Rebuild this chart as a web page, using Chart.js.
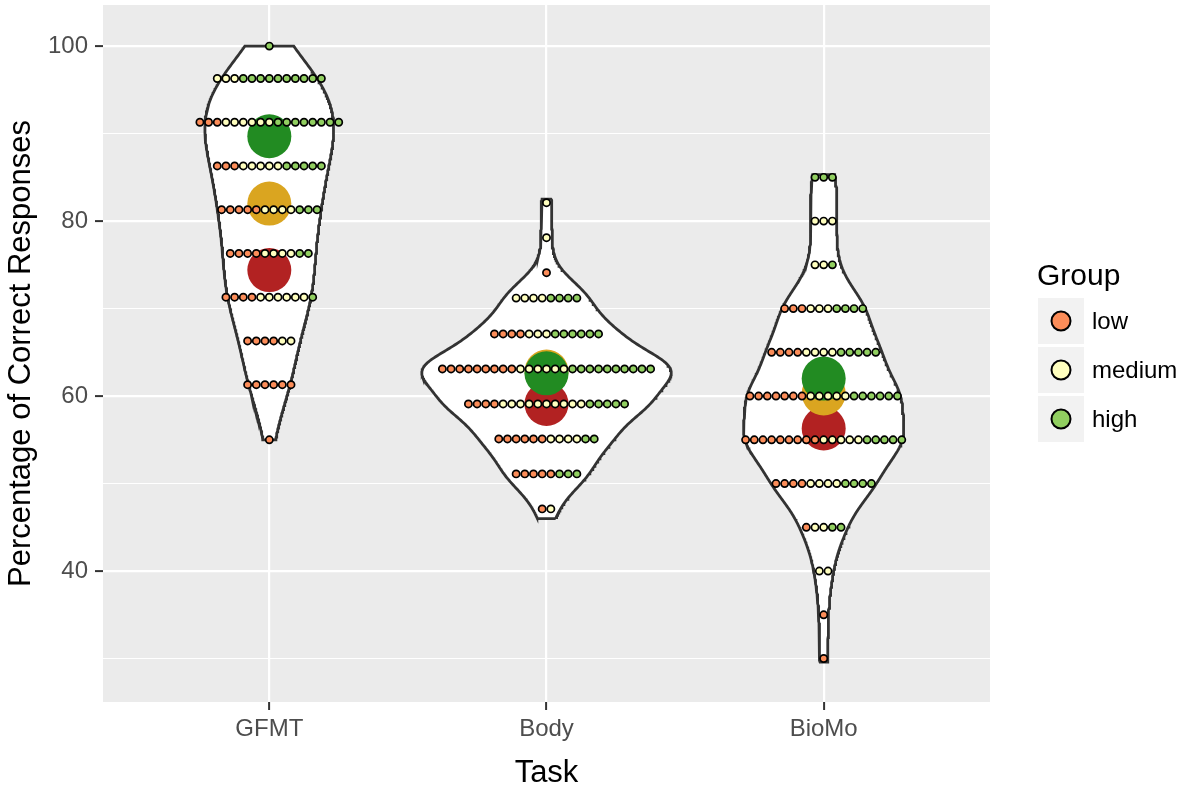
<!DOCTYPE html>
<html>
<head>
<meta charset="utf-8">
<script src="https://cdn.jsdelivr.net/npm/chart.js@4.4.1/dist/chart.umd.min.js"></script>
<style>
  html, body { margin: 0; padding: 0; background: #ffffff; }
  #wrap { width: 1181px; height: 789px; position: relative; }
</style>
</head>
<body>
<div id="wrap"><canvas id="c"></canvas></div>
<script>
// ---------------- DATA ----------------
const categories = ['GFMT', 'Body', 'BioMo'];
const groups = ['low', 'medium', 'high'];

// dot rows (bin centres) and number of participants per group in each row
const gfmtRows = [100, 96.3, 91.3, 86.3, 81.3, 76.3, 71.3, 66.3, 61.3, 55];
const gfmtLow  = [0, 0, 3, 3, 5, 4, 4, 4, 6, 1];
const gfmtMed  = [0, 3, 6, 5, 4, 4, 6, 2, 0, 0];
const gfmtHigh = [1, 10, 8, 5, 3, 2, 1, 0, 0, 0];

const bodyRows = [82.1, 78.1, 74.1, 71.2, 67.1, 63.1, 59.1, 55.1, 51.1, 47.1];
const bodyLow  = [0, 0, 1, 0, 4, 9, 4, 6, 5, 1];
const bodyMed  = [1, 1, 0, 4, 3, 6, 10, 4, 0, 1];
const bodyHigh = [0, 0, 0, 4, 6, 10, 5, 2, 3, 0];

const bioRows = [85, 80, 75, 70, 65, 60, 55, 50, 45, 40, 35, 30];
const bioLow  = [0, 0, 0, 3, 4, 7, 9, 4, 1, 0, 1, 1];
const bioMed  = [0, 3, 2, 3, 4, 5, 5, 4, 2, 2, 0, 0];
const bioHigh = [3, 0, 1, 4, 5, 6, 5, 4, 2, 0, 0, 0];

// group means per task
const meanLow  = [74.4, 59.1, 56.3];
const meanMed  = [82.0, 62.8, 60.3];
const meanHigh = [89.7, 62.6, 62.0];

// violin extent (data range) per task
const violinMin = [55, 46.0, 29.6];
const violinMax = [100, 82.5, 85.3];

// y axis ticks
const yTicks = [30, 40, 50, 60, 70, 80, 90, 100];
const yLabelled = [40, 60, 80, 100];

// ---------------- STYLE ----------------
const groupFill = ['#FC8D59', '#FFFFBF', '#91CF60'];
const meanFill  = ['#B22222', '#DAA520', '#228B22'];
const dotStep = 0.0313;       // horizontal spacing of stacked dots (x units)
const violinHalf = 0.45;      // half-width of widest violin (x units)
const FONT = '"Liberation Sans", Arial, Helvetica, sans-serif';

// ---------------- BUILD ----------------
const tasks = [
  { rows: gfmtRows, counts: [gfmtLow, gfmtMed, gfmtHigh] },
  { rows: bodyRows, counts: [bodyLow, bodyMed, bodyHigh] },
  { rows: bioRows,  counts: [bioLow,  bioMed,  bioHigh] }
];

function values(task) {
  const v = [];
  task.rows.forEach((r, i) => {
    const n = task.counts[0][i] + task.counts[1][i] + task.counts[2][i];
    for (let k = 0; k < n; k++) v.push(r);
  });
  return v.sort((a, b) => a - b);
}
function quantile(s, p) {
  const h = (s.length - 1) * p, lo = Math.floor(h), hi = Math.ceil(h);
  return s[lo] + (s[hi] - s[lo]) * (h - lo);
}
function nrd0(s) {
  const n = s.length;
  const m = s.reduce((a, b) => a + b, 0) / n;
  const sd = Math.sqrt(s.reduce((a, b) => a + (b - m) * (b - m), 0) / (n - 1));
  const iqr = quantile(s, 0.75) - quantile(s, 0.25);
  let lo = Math.min(sd, iqr / 1.34);
  if (!(lo > 0)) lo = sd || 1;
  return 0.9 * lo * Math.pow(n, -0.2);
}
function density(s, bw, y) {
  let d = 0;
  for (const v of s) { const z = (y - v) / bw; d += Math.exp(-0.5 * z * z); }
  return d / (s.length * bw * Math.sqrt(2 * Math.PI));
}

const N = 300;
const dens = tasks.map((task, t) => {
  const s = values(task);
  const bw = nrd0(s);
  const ys = [], ds = [];
  for (let i = 0; i <= N; i++) {
    const y = violinMin[t] + (violinMax[t] - violinMin[t]) * i / N;
    ys.push(y); ds.push(density(s, bw, y));
  }
  return { ys, ds };
});
const maxD = Math.max(...dens.map(d => Math.max(...d.ds)));

const violinSets = dens.map((d, t) => {
  const cx = t + 1, pts = [];
  for (let i = 0; i <= N; i++) pts.push({ x: cx + violinHalf * d.ds[i] / maxD, y: d.ys[i] });
  for (let i = N; i >= 0; i--) pts.push({ x: cx - violinHalf * d.ds[i] / maxD, y: d.ys[i] });
  pts.push({ x: pts[0].x, y: pts[0].y });
  return {
    label: 'violin ' + categories[t], data: pts, showLine: true, fill: 'shape',
    backgroundColor: '#ffffff', borderColor: '#333333', borderWidth: 2.8,
    pointRadius: 0, tension: 0, order: 20
  };
});

const dotData = [[], [], []];
tasks.forEach((task, t) => {
  task.rows.forEach((r, i) => {
    const seq = [];
    for (let g = 0; g < 3; g++) for (let k = 0; k < task.counts[g][i]; k++) seq.push(g);
    const n = seq.length;
    seq.forEach((g, k) => dotData[g].push({ x: t + 1 + (k - (n - 1) / 2) * dotStep, y: r }));
  });
});
const dotSets = dotData.map((d, g) => ({
  label: groups[g], data: d, backgroundColor: groupFill[g], borderColor: '#000000',
  borderWidth: 1.7, pointRadius: 3.6, order: 0
}));

const means = [meanLow, meanMed, meanHigh];
const meanSets = means.map((m, g) => ({
  label: 'mean ' + groups[g], data: m.map((v, t) => ({ x: t + 1, y: v })),
  backgroundColor: meanFill[g], borderWidth: 0, pointRadius: 22, order: 10 - g
}));

const panelBg = {
  id: 'panelBg',
  beforeDraw(chart) {
    const a = chart.chartArea, ctx = chart.ctx;
    ctx.save(); ctx.fillStyle = '#EBEBEB';
    ctx.fillRect(a.left, a.top, a.right - a.left, a.bottom - a.top);
    ctx.restore();
  }
};

const annot = {
  id: 'annot',
  afterDraw(chart) {
    const ctx = chart.ctx, a = chart.chartArea;
    ctx.save();
    ctx.fillStyle = '#000000';
    ctx.font = '31px ' + FONT;
    ctx.textAlign = 'center'; ctx.textBaseline = 'middle';
    ctx.fillText('Task', (a.left + a.right) / 2, 773);
    ctx.save();
    ctx.translate(21, (a.top + a.bottom) / 2);
    ctx.rotate(-Math.PI / 2);
    ctx.fillText('Percentage of Correct Responses', 0, 0);
    ctx.restore();
    // legend
    ctx.font = '30px ' + FONT;
    ctx.textAlign = 'left'; ctx.textBaseline = 'alphabetic';
    ctx.fillText('Group', 1037, 285);
    ctx.font = '24px ' + FONT;
    groups.forEach((g, i) => {
      const top = 298 + i * 49;
      ctx.fillStyle = '#F2F2F2';
      ctx.fillRect(1038, top, 46, 46);
      ctx.beginPath();
      ctx.arc(1061, top + 23, 9.5, 0, Math.PI * 2);
      ctx.fillStyle = groupFill[i]; ctx.fill();
      ctx.lineWidth = 2; ctx.strokeStyle = '#000000'; ctx.stroke();
      ctx.fillStyle = '#000000'; ctx.textBaseline = 'middle';
      ctx.fillText(g, 1092, top + 24);
    });
    ctx.restore();
  }
};

new Chart(document.getElementById('c'), {
  type: 'scatter',
  data: { datasets: [...dotSets, ...meanSets, ...violinSets] },
  options: {
    responsive: true, maintainAspectRatio: false, animation: false, events: [],
    layout: { autoPadding: false, padding: { left: 0, top: 5, right: 191, bottom: 0 } },
    plugins: { legend: { display: false }, tooltip: { enabled: false } },
    scales: {
      x: {
        type: 'linear', min: 0.4, max: 3.6,
        afterBuildTicks: s => { s.ticks = categories.map((c, i) => ({ value: i + 1 })); },
        afterFit: s => { s.height = 87; s.paddingLeft = 0; s.paddingRight = 0; },
        ticks: {
          callback: v => categories[Math.round(v) - 1] || '',
          color: '#4D4D4D', font: { family: FONT, size: 24 }, padding: 5, maxRotation: 0, autoSkip: false
        },
        grid: { color: '#FFFFFF', lineWidth: 2.2, tickColor: '#333333', tickLength: 8, tickWidth: 2 },
        border: { display: false }
      },
      y: {
        type: 'linear', min: 25.03, max: 104.7,
        afterBuildTicks: s => { s.ticks = yTicks.map(v => ({ value: v })); },
        afterFit: s => { s.width = 103; s.paddingTop = 0; s.paddingBottom = 0; },
        ticks: {
          callback: v => yLabelled.includes(v) ? String(v) : '',
          color: '#4D4D4D', font: { family: FONT, size: 24 }, padding: 7, autoSkip: false
        },
        grid: {
          color: '#FFFFFF',
          lineWidth: c => yLabelled.includes(c.tick && c.tick.value) ? 2.2 : 1.1,
          tickColor: c => yLabelled.includes(c.tick && c.tick.value) ? '#333333' : 'rgba(0,0,0,0)',
          tickLength: 8, tickWidth: 2
        },
        border: { display: false }
      }
    }
  },
  plugins: [panelBg, annot]
});
</script>
</body>
</html>
